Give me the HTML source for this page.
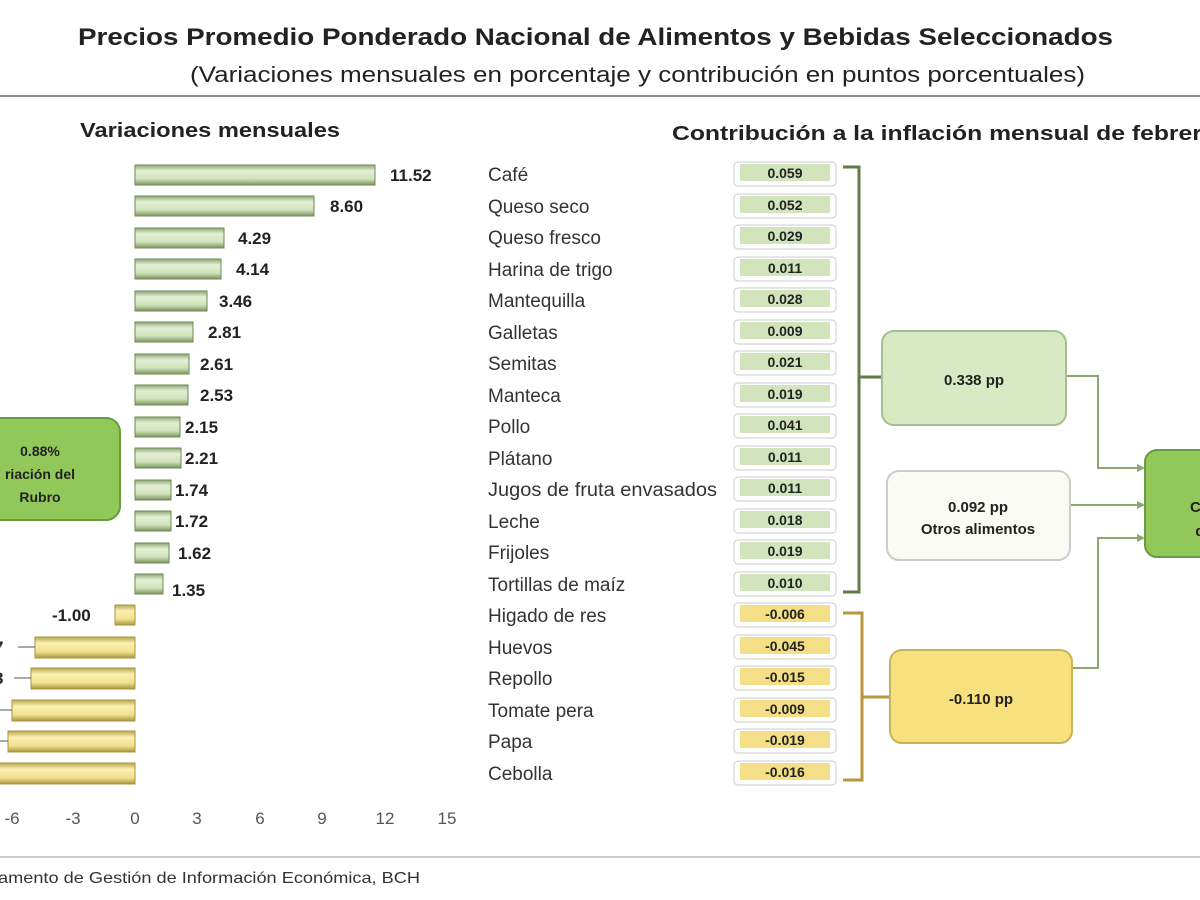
<!DOCTYPE html><html><head><style>body{margin:0;background:#fff}svg{display:block;font-family:"Liberation Sans",sans-serif}</style></head><body>
<svg width="1200" height="900" viewBox="0 0 1200 900" xmlns="http://www.w3.org/2000/svg">
<defs>
<linearGradient id="gg" x1="0" y1="0" x2="0" y2="1"><stop offset="0" stop-color="#8fa878"/><stop offset=".3" stop-color="#e4f0d6"/><stop offset=".7" stop-color="#cfe2b8"/><stop offset="1" stop-color="#7a9462"/></linearGradient>
<linearGradient id="yg" x1="0" y1="0" x2="0" y2="1"><stop offset="0" stop-color="#b8a850"/><stop offset=".3" stop-color="#fbf0b0"/><stop offset=".7" stop-color="#f3e190"/><stop offset="1" stop-color="#a8973e"/></linearGradient>
</defs>
<text x="78" y="45" font-size="24" font-weight="bold" fill="#222" textLength="1035" lengthAdjust="spacingAndGlyphs">Precios Promedio Ponderado Nacional de Alimentos y Bebidas Seleccionados</text>
<text x="190" y="82" font-size="22" fill="#222" textLength="895" lengthAdjust="spacingAndGlyphs">(Variaciones mensuales en porcentaje y contribución en puntos porcentuales)</text>
<line x1="0" y1="96" x2="1200" y2="96" stroke="#666" stroke-width="1.5"/>
<text x="80" y="137" font-size="20" font-weight="bold" fill="#222" textLength="260" lengthAdjust="spacingAndGlyphs">Variaciones mensuales</text>
<text x="672" y="140" font-size="20" font-weight="bold" fill="#222" textLength="545" lengthAdjust="spacingAndGlyphs">Contribución a la inflación mensual de febrero</text>
<g font-size="17" fill="#222">
<g font-weight="bold">
<rect x="135" y="165" width="240" height="20" fill="url(#gg)" stroke="#6d8a55"/><text x="390" y="181">11.52</text>
<rect x="135" y="196" width="179" height="20" fill="url(#gg)" stroke="#6d8a55"/><text x="330" y="212">8.60</text>
<rect x="135" y="228" width="89" height="20" fill="url(#gg)" stroke="#6d8a55"/><text x="238" y="244">4.29</text>
<rect x="135" y="259" width="86" height="20" fill="url(#gg)" stroke="#6d8a55"/><text x="236" y="275">4.14</text>
<rect x="135" y="291" width="72" height="20" fill="url(#gg)" stroke="#6d8a55"/><text x="219" y="307">3.46</text>
<rect x="135" y="322" width="58" height="20" fill="url(#gg)" stroke="#6d8a55"/><text x="208" y="338">2.81</text>
<rect x="135" y="354" width="54" height="20" fill="url(#gg)" stroke="#6d8a55"/><text x="200" y="370">2.61</text>
<rect x="135" y="385" width="53" height="20" fill="url(#gg)" stroke="#6d8a55"/><text x="200" y="401">2.53</text>
<rect x="135" y="417" width="45" height="20" fill="url(#gg)" stroke="#6d8a55"/><text x="185" y="433">2.15</text>
<rect x="135" y="448" width="46" height="20" fill="url(#gg)" stroke="#6d8a55"/><text x="185" y="464">2.21</text>
<rect x="135" y="480" width="36" height="20" fill="url(#gg)" stroke="#6d8a55"/><text x="175" y="496">1.74</text>
<rect x="135" y="511" width="36" height="20" fill="url(#gg)" stroke="#6d8a55"/><text x="175" y="527">1.72</text>
<rect x="135" y="543" width="34" height="20" fill="url(#gg)" stroke="#6d8a55"/><text x="178" y="559">1.62</text>
<rect x="135" y="574" width="28" height="20" fill="url(#gg)" stroke="#6d8a55"/><text x="172" y="596">1.35</text>
<rect x="115" y="605" width="20" height="20" fill="url(#yg)" stroke="#a89540"/><text x="52" y="621">-1.00</text>
<rect x="35" y="637" width="100" height="21" fill="url(#yg)" stroke="#a89540"/><text x="-6" y="653">7</text><line x1="18" y1="647" x2="35" y2="647" stroke="#555"/>
<rect x="31" y="668" width="104" height="21" fill="url(#yg)" stroke="#a89540"/><text x="-6" y="684">3</text><line x1="14" y1="678" x2="31" y2="678" stroke="#555"/>
<rect x="12" y="700" width="123" height="21" fill="url(#yg)" stroke="#a89540"/><line x1="0" y1="710" x2="12" y2="710" stroke="#555"/>
<rect x="8" y="731" width="127" height="21" fill="url(#yg)" stroke="#a89540"/><line x1="0" y1="741" x2="8" y2="741" stroke="#555"/>
<rect x="-5" y="763" width="140" height="21" fill="url(#yg)" stroke="#a89540"/>
</g>
<g fill="#555"><text x="12" y="824" text-anchor="middle">-6</text><text x="73" y="824" text-anchor="middle">-3</text><text x="135" y="824" text-anchor="middle">0</text><text x="197" y="824" text-anchor="middle">3</text><text x="260" y="824" text-anchor="middle">6</text><text x="322" y="824" text-anchor="middle">9</text><text x="385" y="824" text-anchor="middle">12</text><text x="447" y="824" text-anchor="middle">15</text></g>
<rect x="-20" y="418" width="140" height="102" rx="14" fill="#92c85a" stroke="#6a9a3e" stroke-width="2"/>
<g font-weight="bold" font-size="14" text-anchor="middle"><text x="40" y="456">0.88%</text><text x="40" y="479">riación  del</text><text x="40" y="502">Rubro</text></g>
<g font-size="19" fill="#333">
<text x="488" y="181">Café</text><text x="488" y="213">Queso seco</text><text x="488" y="244">Queso fresco</text><text x="488" y="276">Harina de trigo</text><text x="488" y="307">Mantequilla</text><text x="488" y="339">Galletas</text><text x="488" y="370">Semitas</text><text x="488" y="402">Manteca</text><text x="488" y="433">Pollo</text><text x="488" y="465">Plátano</text><text x="488" y="496" textLength="229" lengthAdjust="spacingAndGlyphs">Jugos de fruta envasados</text><text x="488" y="528">Leche</text><text x="488" y="559">Frijoles</text><text x="488" y="591">Tortillas de maíz</text><text x="488" y="622">Higado de res</text><text x="488" y="654">Huevos</text><text x="488" y="685">Repollo</text><text x="488" y="717">Tomate pera</text><text x="488" y="748">Papa</text><text x="488" y="780">Cebolla</text>
</g>
<g font-size="14" font-weight="bold" text-anchor="middle">
<g stroke="#ccc" fill="#fff"><rect x="734" y="162" width="102" height="24" rx="4"/><rect x="734" y="194" width="102" height="24" rx="4"/><rect x="734" y="225" width="102" height="24" rx="4"/><rect x="734" y="257" width="102" height="24" rx="4"/><rect x="734" y="288" width="102" height="24" rx="4"/><rect x="734" y="320" width="102" height="24" rx="4"/><rect x="734" y="351" width="102" height="24" rx="4"/><rect x="734" y="383" width="102" height="24" rx="4"/><rect x="734" y="414" width="102" height="24" rx="4"/><rect x="734" y="446" width="102" height="24" rx="4"/><rect x="734" y="477" width="102" height="24" rx="4"/><rect x="734" y="509" width="102" height="24" rx="4"/><rect x="734" y="540" width="102" height="24" rx="4"/><rect x="734" y="572" width="102" height="24" rx="4"/><rect x="734" y="603" width="102" height="24" rx="4"/><rect x="734" y="635" width="102" height="24" rx="4"/><rect x="734" y="666" width="102" height="24" rx="4"/><rect x="734" y="698" width="102" height="24" rx="4"/><rect x="734" y="729" width="102" height="24" rx="4"/><rect x="734" y="761" width="102" height="24" rx="4"/></g>
<g fill="#d2e4bc"><rect x="740" y="164" width="90" height="17"/><rect x="740" y="196" width="90" height="17"/><rect x="740" y="227" width="90" height="17"/><rect x="740" y="259" width="90" height="17"/><rect x="740" y="290" width="90" height="17"/><rect x="740" y="322" width="90" height="17"/><rect x="740" y="353" width="90" height="17"/><rect x="740" y="385" width="90" height="17"/><rect x="740" y="416" width="90" height="17"/><rect x="740" y="448" width="90" height="17"/><rect x="740" y="479" width="90" height="17"/><rect x="740" y="511" width="90" height="17"/><rect x="740" y="542" width="90" height="17"/><rect x="740" y="574" width="90" height="17"/></g>
<g fill="#f5df86"><rect x="740" y="605" width="90" height="17"/><rect x="740" y="637" width="90" height="17"/><rect x="740" y="668" width="90" height="17"/><rect x="740" y="700" width="90" height="17"/><rect x="740" y="731" width="90" height="17"/><rect x="740" y="763" width="90" height="17"/></g>
<text x="785" y="178">0.059</text><text x="785" y="210">0.052</text><text x="785" y="241">0.029</text><text x="785" y="273">0.011</text><text x="785" y="304">0.028</text><text x="785" y="336">0.009</text><text x="785" y="367">0.021</text><text x="785" y="399">0.019</text><text x="785" y="430">0.041</text><text x="785" y="462">0.011</text><text x="785" y="493">0.011</text><text x="785" y="525">0.018</text><text x="785" y="556">0.019</text><text x="785" y="588">0.010</text><text x="785" y="619">-0.006</text><text x="785" y="651">-0.045</text><text x="785" y="682">-0.015</text><text x="785" y="714">-0.009</text><text x="785" y="745">-0.019</text><text x="785" y="777">-0.016</text>
</g>
<g fill="none" stroke-width="3"><path d="M843 167 H859 V592 H843" stroke="#5f7d45"/><line x1="859" y1="377" x2="882" y2="377" stroke="#5f7d45"/>
<path d="M843 613 H862 V780 H843" stroke="#b8973e"/><line x1="862" y1="697" x2="890" y2="697" stroke="#b8973e"/></g>
<g fill="none" stroke="#8aa870" stroke-width="2"><path d="M1066 376 H1098 V468 H1142"/><path d="M1070 505 H1142"/><path d="M1072 668 H1098 V538 H1142"/></g>
<g fill="#8aa870"><path d="M1145 468 l-8 -4 v8z"/><path d="M1145 505 l-8 -4 v8z"/><path d="M1145 538 l-8 -4 v8z"/></g>
<rect x="882" y="331" width="184" height="94" rx="12" fill="#d7eac3" stroke="#a7bd92" stroke-width="2"/>
<rect x="887" y="471" width="183" height="89" rx="12" fill="#fbfbf5" stroke="#ccc" stroke-width="2"/>
<rect x="890" y="650" width="182" height="93" rx="12" fill="#f7e17e" stroke="#c9b259" stroke-width="2"/>
<rect x="1145" y="450" width="80" height="107" rx="12" fill="#92c85a" stroke="#6a9a3e" stroke-width="2"/>
<g font-weight="bold" font-size="15" text-anchor="middle"><text x="974" y="385">0.338 pp</text><text x="978" y="512">0.092 pp</text><text x="978" y="534">Otros alimentos</text><text x="981" y="704">-0.110 pp</text><text x="1200" y="512">Co</text><text x="1200" y="536">d</text></g>
<line x1="0" y1="857" x2="1200" y2="857" stroke="#999"/>
<text x="-2" y="883" font-size="16" fill="#333" textLength="422" lengthAdjust="spacingAndGlyphs">amento de Gestión de Información Económica, BCH</text>
</g>
</svg></body></html>
